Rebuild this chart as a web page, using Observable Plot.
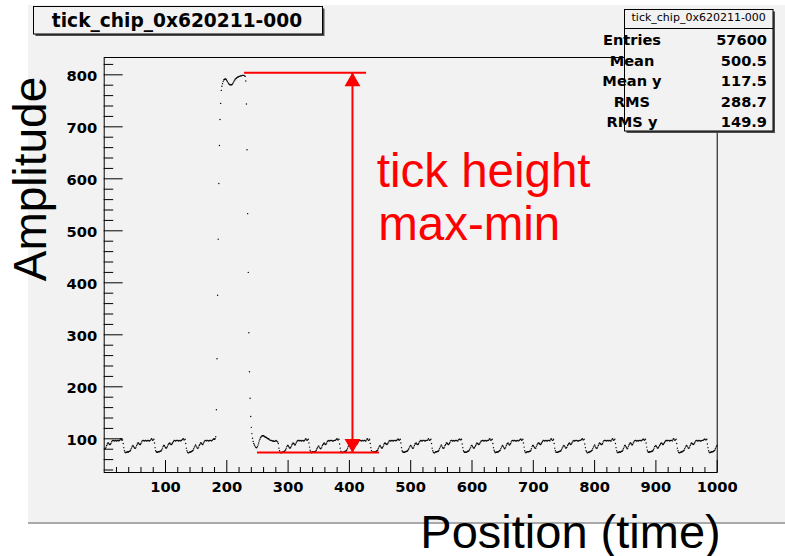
<!DOCTYPE html>
<html>
<head>
<meta charset="utf-8">
<script src="https://cdn.jsdelivr.net/npm/d3@7"></script>
<script src="https://cdn.jsdelivr.net/npm/@observablehq/plot@0.6"></script>
<style>
html, body { margin: 0; padding: 0; background: #ffffff; }
#wrap { position: relative; width: 785px; height: 556px; overflow: hidden; }
#panel { position: absolute; left: 28px; top: 5px; width: 757px; height: 517px; background: #f2f2f2; border-bottom: 2px solid #a9a9a9; }
#chart { position: absolute; left: 0; top: 0; }
</style>
</head>
<body>
<div id="wrap">
  <div id="panel"></div>
  <div id="chart"></div>
</div>
<script>
// ---------------- data ----------------
const histTitle = "tick_chip_0x620211-000";
const statLabels = ["Entries", "Mean", "Mean y", "RMS", "RMS y"];
const statValues = ["57600", "500.5", "117.5", "288.7", "149.9"];

const xLabel = "Position (time)";
const yLabel = "Amplitude";
const noteLines = ["tick height", "max-min"];

const xMajor = [100, 200, 300, 400, 500, 600, 700, 800, 900, 1000];
const yMajor = [100, 200, 300, 400, 500, 600, 700, 800];
const xMinor = d3.range(20, 1000, 20).filter(v => v % 100 !== 0);
const yMinor = d3.range(40, 821, 20).filter(v => v % 100 !== 0);

// amplitude per position 1..181 (before the tick)
const ampBeforeTick = [
  81,82,84,87,90,92,92,90,89,89, 91,94,96,97,97,96,96,97,97,96, 96,97,97,96,97,98,100,99,97,98,
  91,83,77,74,73,74,74,75,74,75, 76,76,78,81,84,86,87,85,83,82, 82,84,87,90,92,92,90,89,89,91,
  94,96,97,97,96,96,97,97,96,96, 97,97,96,96,97,98,100,99,97,98, 99,
  92,83,77,75,74,74,75,75,75,76, 76,77,79,82,85,87,87,85,83,82, 83,85,88,90,91,92,90,89,89,91,
  93,95,97,97,96,96,97,97,97,96, 96,97,97,96,97,98,99,100,98,98, 99,
  91,82,77,74,73,73,74,74,75,75, 76,77,78,81,84,86,88,86,84,82, 82,84,87,89,92,92,91,89,89,92,
  94,96,97,97,96,97,97,96,96,97, 97,97,96,97,98,99,100,99,100
];
// amplitude per position 182..283 (the tick and its recovery)
const ampTick = [
  104,156,254,376,484,591,664,714,745,770,
  778,783,787,790,791,792,792,791,789,787, 785,783,782,781,781,781,781,782,784,786,
  788,790,792,793,794,795,796,796,797,797, 798,798,798,799,799,799,799,798,797,
  788,744,656,533,420,304,229,178,143,122, 110,101,95,91,88,86,84,
  83,83,85,88,92,96,99,102,104,105, 106,106,106,105,104,103,103,102,101,100,
  100,99,98,97,97,97,96,96,96,95, 95,96,97,96,95,94
];
// amplitude per position 284..1000 (after the tick)
const ampAfterTick = [
  91,82,77,74,73,73,74,74,75,75, 76,77,79,82,85,87,87,85,83,82, 83,85,88,90,92,91,90,88,89,92, 94,96,97,97,96,97,97,96,96,97, 97,96,96,97,99,100,98,97,98,99,
  92,84,78,75,73,74,75,75,74,75, 75,76,78,81,83,86,86,84,82,81, 82,84,87,89,91,92,90,89,90,92, 95,96,97,96,96,97,97,97,96,96, 96,97,97,97,98,99,100,98,98,99,
  90,82,76,74,73,74,74,74,75,76, 76,77,79,82,85,87,88,86,84,82, 82,84,86,89,91,92,91,89,89,91, 93,95,97,97,97,96,96,97,97,96, 97,97,96,96,98,100,99,97,97,99,
  91,83,77,74,74,74,75,74,75,75, 76,77,78,81,84,86,87,85,83,82, 83,85,88,91,92,91,90,89,90,92, 94,96,97,96,96,97,97,96,96,97, 97,97,96,97,98,99,99,97,98,99,
  92,83,77,75,74,74,74,75,75,76, 76,77,79,81,84,86,87,86,84,82, 82,84,87,90,91,92,90,89,89,91, 94,95,97,97,96,96,97,97,97,96, 96,97,97,97,98,100,98,97,98,99,
  91,82,77,74,73,73,74,75,75,75, 76,76,78,81,84,86,88,86,83,82, 82,84,87,89,92,92,91,89,89,91, 93,96,97,97,96,96,97,96,96,97, 97,97,96,96,98,99,99,98,98,99,
  90,83,77,75,74,74,74,74,75,76, 76,77,79,82,84,87,87,85,83,82, 83,85,87,90,92,91,90,89,90,92, 94,96,96,97,97,96,96,97,97,96, 96,97,97,97,99,100,98,97,98,99,
  91,83,78,75,73,74,74,75,74,75, 76,77,78,81,84,86,87,85,83,81, 82,84,87,90,91,92,90,88,89,91, 94,96,97,97,96,97,97,96,96,96, 97,97,96,97,98,99,99,97,98,99,
  92,84,77,74,73,74,75,75,75,75, 76,76,78,81,85,87,87,85,83,82, 82,85,88,90,92,92,91,89,89,91, 93,95,97,97,96,96,97,97,96,96, 97,97,97,96,98,100,99,97,97,99,
  91,82,77,74,74,74,74,75,75,76, 76,77,79,82,84,86,87,86,84,82, 83,84,87,89,91,92,90,89,90,92, 94,96,97,96,96,97,97,97,96,96, 96,97,97,97,98,99,100,98,98,99,
  90,83,77,75,73,73,74,74,75,75, 76,77,78,81,84,86,88,86,83,82, 82,84,87,90,92,91,90,89,89,91, 94,96,97,97,97,96,96,97,97,96, 97,97,96,96,98,100,99,97,98,99,
  91,83,77,74,73,74,74,75,74,75, 76,76,78,81,84,87,87,85,83,81, 82,85,88,90,92,92,90,88,89,92, 94,96,97,97,96,96,97,96,96,97, 97,97,96,97,98,99,99,97,98,99,
  92,84,78,75,74,74,75,75,75,76, 76,77,79,82,85,86,87,85,83,82, 83,85,87,89,91,92,91,89,89,91, 93,95,97,97,96,97,97,97,96,96, 97,97,97,96,99,100,98,97,98,99,
  91,82,77,74,73,73,74,74,75,75, 76,77,78,81,84,86,87,86,84,82, 82,84,87,90,92,91,90,89,90,92, 94,96,97,97,96,96,97,97,96,96, 96,97,97,97,98,99,99,98,98,99,
  90,83,77,74,73,74,74,75,75,75, 76,77,78,81,84,86,87
];

// red annotation (max / min levels of the tick)
const noteTop = 804;
const noteBottom = 73.7;
const noteTopSpan = [229, 428];
const noteBottomSpan = [250, 449];
const noteArrowX = 405;

// ---------------- build ----------------
const amplitude = ampBeforeTick.concat(ampTick, ampAfterTick);
const points = amplitude.map((a, i) => ({pos: i + 1, amp: a}));

const W = 785, H = 556;
const mL = 103.7, mR = 68.3, mT = 57, mB = 84;
const fw = W - mL - mR;
const red = "#ff0000";
const fmt = d => String(d);

const chart = Plot.plot({
  width: W, height: H,
  marginLeft: mL, marginRight: mR, marginTop: mT, marginBottom: mB,
  x: {domain: [0, 1000]},
  y: {domain: [35.2, 833.3]},
  style: {background: "transparent", fontFamily: "DejaVu Sans", overflow: "visible", color: "#000"},
  marks: [
    Plot.frame({stroke: "#000", strokeWidth: 1}),
    Plot.dot(points, {x: "pos", y: "amp", r: 0.7, fill: "#000", stroke: null}),
    // red annotation
    Plot.ruleY([noteTop], {x1: noteTopSpan[0], x2: noteTopSpan[1], stroke: red, strokeWidth: 2}),
    Plot.ruleY([noteBottom], {x1: noteBottomSpan[0], x2: noteBottomSpan[1], stroke: red, strokeWidth: 2}),
    Plot.ruleX([noteArrowX], {y1: noteBottom, y2: noteTop, stroke: red, strokeWidth: 2}),
    Plot.dot([noteTop], {x: noteArrowX, y: d => d, symbol: "triangle", r: 5.9, fill: red, stroke: null, dy: 9}),
    Plot.dot([noteBottom], {x: noteArrowX, y: d => d, symbol: "triangle", r: 5.9, fill: red, stroke: null, rotate: 180, dy: -9}),
    Plot.text([noteLines[0]], {frameAnchor: "top-left", text: d => d, textAnchor: "start", lineAnchor: "bottom", dx: 272.5, dy: 129.5, fontSize: 47.5, fontFamily: "Liberation Sans", fill: red}),
    Plot.text([noteLines[1]], {frameAnchor: "top-left", text: d => d, textAnchor: "start", lineAnchor: "bottom", dx: 274, dy: 182.5, fontSize: 47.5, fontFamily: "Liberation Sans", fill: red}),
    // axis titles
    Plot.text([yLabel], {frameAnchor: "top-left", text: d => d, rotate: -90, textAnchor: "middle", lineAnchor: "bottom", dx: 46 - mL, dy: 178.5 - mT, fontSize: 46, fontFamily: "Liberation Sans", fill: "#000"}),
    Plot.text([xLabel], {frameAnchor: "bottom", text: d => d, textAnchor: "middle", lineAnchor: "bottom", dx: 570 - (mL + fw / 2), dy: 75, fontSize: 47, fontFamily: "Liberation Sans", fill: "#000"}),
    // tick labels
    Plot.axisY(yMajor, {anchor: "left", tickSize: 0, tickPadding: 7, fontSize: 14.7, fontWeight: "bold", label: null, tickFormat: fmt, dy: 1.5}),
    Plot.axisX(xMajor, {anchor: "bottom", tickSize: 0, tickPadding: 9, fontSize: 14.7, fontWeight: "bold", label: null, tickFormat: fmt}),
    // inward ROOT-style ticks (drawn last)
    Plot.axisY(yMajor, {anchor: "left", tickSize: -19, fill: "none", label: null, stroke: "#000"}),
    Plot.axisY(yMinor, {anchor: "left", tickSize: -9.5, fill: "none", label: null, stroke: "#000"}),
    Plot.axisX(xMajor, {anchor: "bottom", tickSize: -12, fill: "none", label: null, stroke: "#000"}),
    Plot.axisX(xMinor, {anchor: "bottom", tickSize: -5, fill: "none", label: null, stroke: "#000"})
  ]
});
document.getElementById("chart").appendChild(chart);

// ---------------- title box and statistics box (inside the same svg) ----------------
const ov = d3.select(chart).append("g").attr("font-family", "DejaVu Sans").attr("fill", "#000");
// title box
ov.append("rect").attr("x", 35.5).attr("y", 8.5).attr("width", 289).attr("height", 27.5).attr("fill", "#4d4d4d");
ov.append("rect").attr("x", 33.5).attr("y", 6.5).attr("width", 289).attr("height", 27.5).attr("fill", "#f2f2f2").attr("stroke", "#000");
ov.append("text").attr("x", 177).attr("y", 27.3).attr("text-anchor", "middle")
  .attr("font-weight", "bold").attr("font-size", 18.6).text(histTitle);
// stats box
ov.append("rect").attr("x", 626.5).attr("y", 11.5).attr("width", 148.5).attr("height", 121.5).attr("fill", "#4d4d4d");
ov.append("rect").attr("x", 624.5).attr("y", 9.5).attr("width", 148.5).attr("height", 121.5).attr("fill", "#f2f2f2").attr("stroke", "#000");
ov.append("line").attr("x1", 624.5).attr("x2", 773).attr("y1", 28.5).attr("y2", 28.5).attr("stroke", "#000");
ov.append("text").attr("x", 698.7).attr("y", 21).attr("text-anchor", "middle").attr("font-size", 11).text(histTitle);
statLabels.forEach((lab, i) => {
  const y = 45 + i * 20.5;
  ov.append("text").attr("x", 632).attr("y", y).attr("font-weight", "bold").attr("font-size", 14.6).text(lab);
  ov.append("text").attr("x", 767).attr("y", y).attr("text-anchor", "end").attr("font-weight", "bold").attr("font-size", 14.6).text(statValues[i]);
});
</script>
</body>
</html>
